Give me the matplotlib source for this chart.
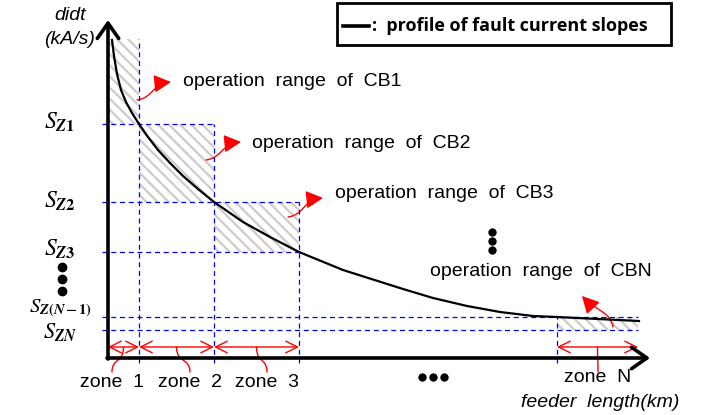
import matplotlib.pyplot as plt
from matplotlib.patches import Rectangle, FancyArrowPatch
from matplotlib.path import Path

plt.rcParams['mathtext.fontset'] = 'stix'
plt.rcParams['hatch.linewidth'] = 1.6

SANS = ['Liberation Sans', 'DejaVu Sans']

# zone boundaries along the feeder and slope thresholds
zone_edges = [0, 31, 106, 191, 449, 530]
slope_levels = [234, 156, 106, 41, 28]
level_labels = [r'$S_{\boldsymbol{Z1}}$', r'$S_{\boldsymbol{Z2}}$', r'$S_{\boldsymbol{Z3}}$',
                r'$S_{\boldsymbol{Z(N-1)}}$', r'$S_{\boldsymbol{ZN}}$']
zone_names = ['zone  1', 'zone  2', 'zone  3', 'zone  N']
cb_names = ['CB1', 'CB2', 'CB3', 'CBN']

# profile of fault current slopes
curve_x = [4, 6, 9, 13, 18, 24, 31, 40, 50, 62, 75, 90, 106, 135, 162, 191,
           235, 295, 325, 359, 392, 425, 449, 490, 531]
curve_y = [318, 302, 284, 268, 256, 245, 234, 221, 208, 195, 182, 169, 156, 136, 121, 106,
           88, 69, 60, 52, 46, 42, 41, 39, 37]
curve_top = 319

fig = plt.figure(figsize=(7.09, 4.15), dpi=100)
ax = fig.add_axes([0, 0, 1, 1])
ax.set_xlim(-108, 601)
ax.set_ylim(-57, 358)
ax.axis('off')

# hatched operation ranges
tops = [curve_top] + slope_levels
regions = [(0, 0), (1, 1), (2, 2), (4, 4)]
for ei, li in regions:
    x0, x1 = zone_edges[ei], zone_edges[ei + 1]
    y0, y1 = slope_levels[li], tops[li]
    ax.add_patch(Rectangle((x0, y0), x1 - x0, y1 - y0, facecolor='white',
                           edgecolor='#cccccc', hatch='\\\\\\', lw=0, zorder=1))

# dashed grid
dash = (0, (4, 3))
h_ends = [zone_edges[2], zone_edges[3], zone_edges[3], zone_edges[5], zone_edges[5]]
for lv, xe in zip(slope_levels, h_ends):
    ax.plot([-6, xe], [lv, lv], color='blue', lw=0.9, ls=dash, zorder=2)
v_tops = [curve_top, slope_levels[0], slope_levels[1], slope_levels[3]]
for xe, yt in zip(zone_edges[1:5], v_tops):
    ax.plot([xe, xe], [-5, yt], color='blue', lw=0.9, ls=dash, zorder=2)

ax.plot(curve_x, curve_y, color='black', lw=1.6, zorder=4)

# axes arrows
ax.annotate('', xy=(0, 338), xytext=(0, -1),
            arrowprops=dict(arrowstyle='->,head_length=0.5,head_width=0.35', lw=2.6,
                            color='black', mutation_scale=22, shrinkA=0, shrinkB=0), zorder=5)
ax.annotate('', xy=(542, 0), xytext=(-1, 0),
            arrowprops=dict(arrowstyle='->,head_length=0.5,head_width=0.35', lw=2.6,
                            color='black', mutation_scale=22, shrinkA=0, shrinkB=0), zorder=5)

ax.text(-38, 343, 'didt', style='italic', fontsize=14, family=SANS, ha='center', va='center')
ax.text(-38, 318, '(kA/s)', style='italic', fontsize=14, family=SANS, ha='center', va='center')
ax.text(492, -44, 'feeder  length(km)', style='italic', fontsize=14, family=SANS,
        ha='center', va='center')

# level labels
lab_y = [236, 157, 109, 50, 26]
lab_size = [17, 17, 17, 15, 16]
for lab, ly, fs in zip(level_labels, lab_y, lab_size):
    ax.text(-48, ly, lab, fontsize=fs, ha='center', va='center')
ax.plot([-46, -46, -46], [91, 79, 67], 'o', color='black', ms=6)
ax.plot([384, 384, 384], [126, 117, 108], 'o', color='black', ms=5)
ax.plot([314, 325, 336], [-19, -19, -19], 'o', color='black', ms=5)

# zone span arrows and labels
spans = [(0, 1), (1, 2), (2, 3), (4, 5)]
lab_pos = [(4, -24), (82, -24), (159, -24), (490, -19)]
for (a, b), name, (tx, ty) in zip(spans, zone_names, lab_pos):
    xa, xb = zone_edges[a], zone_edges[b]
    ax.annotate('', xy=(xb, 11), xytext=(xa, 11),
                arrowprops=dict(arrowstyle='<->,head_length=0.6,head_width=0.3', lw=1,
                                color='red', mutation_scale=14, shrinkA=0, shrinkB=0))
    mx = (xa + xb) / 2
    p = Path([(mx, 11), (mx, -5), (tx, 0), (tx, -14)],
             [Path.MOVETO, Path.CURVE4, Path.CURVE4, Path.CURVE4])
    ax.add_patch(FancyArrowPatch(path=p, arrowstyle='-', color='red', lw=1,
                                 transform=ax.transData))
    ax.text(tx, ty, name, fontsize=14, family=SANS, ha='center', va='center')

# operation range labels with curly arrows
cb_text = [(75, 276), (144, 215), (227, 165), (322, 86)]
cb_paths = [
    [(29, 258), (45, 260), (44, 274), (63, 276)],
    [(98, 198), (114, 200), (113, 214), (133, 216)],
    [(180, 141), (196, 143), (195, 158), (215, 160)],
    [(505, 31), (503, 46), (488, 47), (474, 62)],
]
for name, (tx, ty), pts in zip(cb_names, cb_text, cb_paths):
    ax.text(tx, ty, 'operation  range  of  ' + name, fontsize=14, family=SANS,
            ha='left', va='center')
    p = Path(pts, [Path.MOVETO, Path.CURVE4, Path.CURVE4, Path.CURVE4])
    ax.add_patch(FancyArrowPatch(path=p, arrowstyle='-|>,head_length=0.8,head_width=0.42',
                                 mutation_scale=13, color='red', lw=1, transform=ax.transData))

# legend box
ax.add_patch(Rectangle((229, 313), 334, 42, facecolor='white', edgecolor='black', lw=2, zorder=6))
ax.plot([235, 261], [332, 332], color='black', lw=2.6, zorder=7)
ax.text(264, 332, ':  profile of fault current slopes', fontsize=13,
        family=['Open Sans', 'DejaVu Sans'], weight='bold', ha='left', va='center', zorder=7)

fig.savefig('out.png', dpi=100)
